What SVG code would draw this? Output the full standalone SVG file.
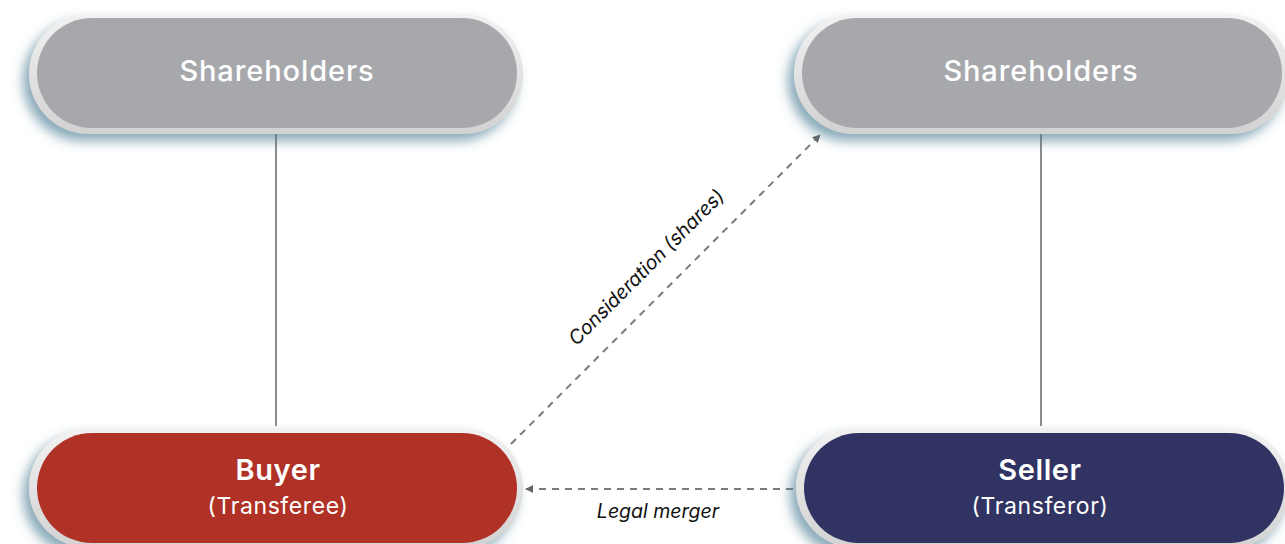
<svg xmlns="http://www.w3.org/2000/svg" width="1285" height="544" viewBox="0 0 1285 544">
  <defs>
    <filter id="shadow" x="-10%" y="-30%" width="120%" height="170%">
      <feDropShadow dx="-6" dy="7" stdDeviation="6" flood-color="#487a92" flood-opacity="0.65"/>
    </filter>
    <linearGradient id="rim" x1="0" y1="0" x2="0" y2="1">
      <stop offset="0" stop-color="#f2f2f2"/>
      <stop offset="1" stop-color="#d2d2d2"/>
    </linearGradient>
    <marker id="arrow" viewBox="0 0 10 10" refX="9" refY="5" markerWidth="4" markerHeight="4" orient="auto">
      <path d="M0,0 L10,5 L0,10 Z" fill="#666"/>
    </marker>
  </defs>
  <style>
    .rim { fill: url(#rim); filter: url(#shadow); }
    .grey { fill: #a7a8ac; }
    .red { fill: #b03226; }
    .navy { fill: #313463; }
    .title { font-family: Inter, "Noto Sans", "Liberation Sans", sans-serif; fill: #ffffff; text-anchor: middle; }
    .sh { font-size: 29px; font-weight: 500; letter-spacing: 0.9px; }
    .main { font-size: 29px; font-weight: 600; letter-spacing: 0.6px; }
    .sub { font-size: 23px; letter-spacing: 0.6px; }
    .solid { stroke: #707070; stroke-width: 1.6; fill: none; }
    .dash { stroke: #7a7a7a; stroke-width: 2; stroke-dasharray: 7 6; fill: none; }
    .lbl { font-family: Inter, "Noto Sans", "Liberation Sans", sans-serif; font-style: italic; font-size: 19.5px; fill: #111; text-anchor: middle; }
  </style>

  <rect width="1285" height="544" fill="#ffffff"/>

  <!-- connectors -->
  <g id="connectors">
    <line class="solid" x1="276" y1="134" x2="276" y2="426"/>
    <line class="solid" x1="1041" y1="134" x2="1041" y2="426"/>
    <line class="dash" x1="511" y1="444" x2="820" y2="135" marker-end="url(#arrow)"/>
    <line class="dash" x1="793" y1="489" x2="526" y2="489" marker-end="url(#arrow)"/>
    <text class="lbl" transform="translate(651,272) rotate(-45)">Consideration (shares)</text>
    <text class="lbl" x="658" y="518">Legal merger</text>
  </g>

  <!-- buyer-side shareholders -->
  <g id="shareholders-buyer">
    <rect class="rim" x="29" y="14" width="494" height="120" rx="60"/>
    <rect class="grey" x="37" y="18" width="480" height="110" rx="55"/>
    <text class="title sh" x="277" y="81">Shareholders</text>
  </g>

  <!-- seller-side shareholders -->
  <g id="shareholders-seller">
    <rect class="rim" x="794" y="14" width="496" height="120" rx="60"/>
    <rect class="grey" x="802" y="18" width="480" height="110" rx="55"/>
    <text class="title sh" x="1041" y="81">Shareholders</text>
  </g>

  <!-- buyer -->
  <g id="buyer">
    <rect class="rim" x="29" y="428" width="494" height="120" rx="60"/>
    <rect class="red" x="37" y="433" width="480" height="110" rx="55"/>
    <text class="title main" x="278" y="480">Buyer</text>
    <text class="title sub" x="278" y="514">(Transferee)</text>
  </g>

  <!-- seller -->
  <g id="seller">
    <rect class="rim" x="796" y="428" width="494" height="120" rx="60"/>
    <rect class="navy" x="804" y="433" width="480" height="110" rx="55"/>
    <text class="title main" x="1040" y="480">Seller</text>
    <text class="title sub" x="1040" y="514">(Transferor)</text>
  </g>
</svg>
